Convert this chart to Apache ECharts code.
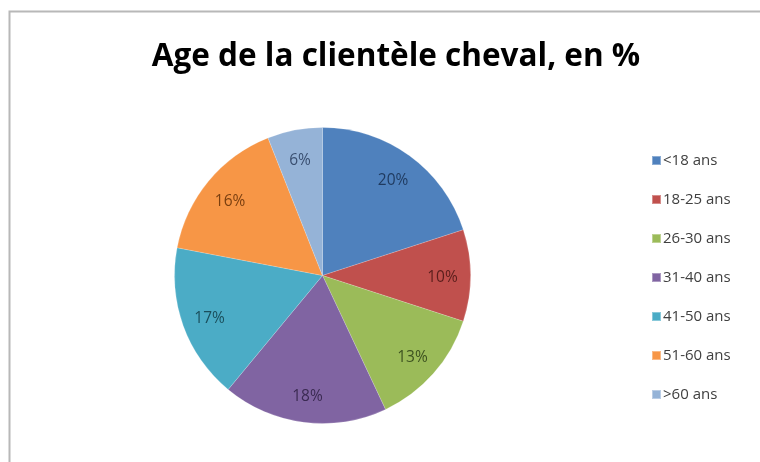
<!DOCTYPE html>
<html><head><meta charset="utf-8">
<script src="https://cdn.jsdelivr.net/npm/echarts@6/dist/echarts.min.js"></script>
<style>html,body{margin:0;padding:0;background:#fff}#c{width:760px;height:462px}</style>
</head><body><div id="c"></div>
<script>
const categories = ['<18 ans','18-25 ans','26-30 ans','31-40 ans','41-50 ans','51-60 ans','>60 ans'];
const values = [20, 10, 13, 18, 17, 16, 6];
const colors = ['#4F81BD','#C0504D','#9BBB59','#8064A2','#4BACC6','#F79646','#95B3D7'];
const labelColors = ['#1F3A5F','#5A1E1C','#3D5220','#3A2A52','#1B4F5C','#7A3F10','#3A4F70'];

const chart = echarts.init(document.getElementById('c'), null, {renderer:'canvas'});
const data = categories.map((n,i)=>({name:n, value:values[i], itemStyle:{color:colors[i]}}));
const labelData = categories.map((n,i)=>({name:n, value:values[i], label:{color:labelColors[i]}}));
chart.setOption({
  animation:false,
  backgroundColor:'#fff',
  graphic:[{type:'rect', shape:{x:9.5,y:11.5,width:800,height:500}, style:{fill:'none', stroke:'#b8b8b8', lineWidth:2}, z:-1}],
  title:{text:'Age de la clientèle cheval, en %', left:391, textAlign:'center', top:36,
    textStyle:{fontFamily:'Open Sans', fontWeight:'bold', fontSize:31.5, color:'#000'}},
  legend:{orient:'vertical', left:646, top:148, itemWidth:9, itemHeight:9, itemGap:24,
    icon:'rect', data:categories,
    textStyle:{fontFamily:'Open Sans', fontSize:15, color:'#404040', padding:[0,0,0,-3]}},
  series:[
    {type:'pie', center:[322.5,275.5], radius:[0,148], startAngle:90, clockwise:true,
     data:data, label:{show:false}, labelLine:{show:false}, silent:true,
     itemStyle:{borderColor:'rgba(255,255,255,0.35)', borderWidth:0.5}},
    {type:'pie', center:[322.5,278], radius:[86,148], startAngle:90, clockwise:true,
     data:labelData, itemStyle:{color:'rgba(0,0,0,0)'}, silent:true, legendHoverLink:false,
     label:{show:true, position:'inside', formatter:'{c}%', fontFamily:'Open Sans', fontSize:15.5},
     labelLine:{show:false}}
  ]
});
</script></body></html>
